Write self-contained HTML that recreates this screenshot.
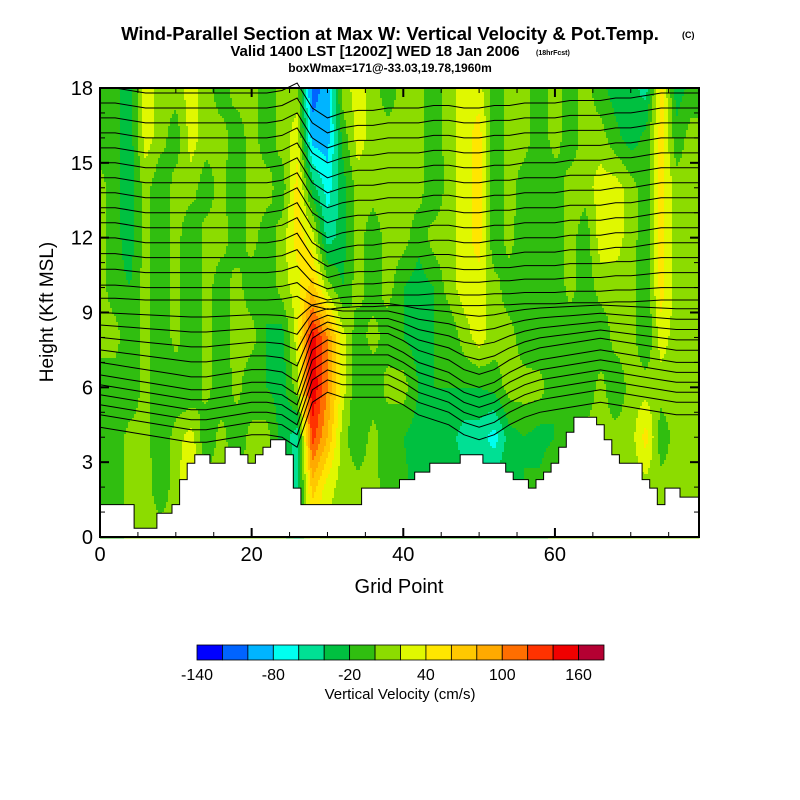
<!DOCTYPE html>
<html><head><meta charset="utf-8"><style>
html,body{margin:0;padding:0;background:#fff;}
svg{display:block;font-family:"Liberation Sans",Arial,sans-serif;}
</style></head><body>
<svg id="chart" width="800" height="800" viewBox="0 0 800 800" xmlns="http://www.w3.org/2000/svg">
<rect width="800" height="800" fill="#fff"/>
<text x="390" y="40" text-anchor="middle" font-size="18.5" font-weight="bold">Wind-Parallel Section at Max W: Vertical Velocity &amp; Pot.Temp.</text>
<text x="682" y="38" font-size="9" font-weight="bold">(C)</text>
<text x="375" y="56" text-anchor="middle" font-size="15" font-weight="bold">Valid 1400 LST [1200Z] WED 18 Jan 2006</text>
<text x="536" y="55" font-size="7" font-weight="bold">(18hrFcst)</text>
<text x="390" y="72" text-anchor="middle" font-size="12" font-weight="bold">boxWmax=171@-33.03,19.78,1960m</text>
<g id="heat"></g>
<g id="iso"></g>
<g id="terrain"></g>
<g id="axes"></g>
<text x="399" y="593" text-anchor="middle" font-size="20">Grid Point</text>
<text transform="translate(53,312) rotate(-90)" text-anchor="middle" font-size="19">Height (Kft MSL)</text>
<g id="cbar"></g>
<text x="400" y="699" text-anchor="middle" font-size="15">Vertical Velocity (cm/s)</text>
</svg>
<script>
// ---- data ----
const gridNodes = [0,2,4,6,8,10,12,14,16,18,20,22,24,26,28,30,32,34,36,38,40,42,44,46,48,50,52,54,56,58,60,62,64,66,68,70,72,74,76,78];
const heightNodes = [18,16,14,12,10,8,6,4,2,0];
const wH18 = [-14,-14,-30,30,10,10,30,10,-14,10,10,-14,10,10,-110,-90,10,30,10,-14, 10,10,-14,10,30,30,-14,10,10,-14,10,-14,10,-14,-30,-30,-50,50,-30,-14];
const wH16 = [-14,-14,-30,30,10,-14,30,10,10,-14,10,-14,10,30,-90,-90,-14,30,10,10, 10,10,-14,10,30,50,-14,10,10,-14,10,-14,10,10,-14,-30,-14,50,-14,10];
const wH14 = [10,-14,-30,10,-20,10,10,-14,10,-20,10,10,-14,50,-30,-70,-30,10,10,10, 10,10,-20,10,30,50,-20,10,-14,-20,-14,10,10,30,30,10,-14,50,10,10];
const wH12 = [10,-14,-30,10,-20,10,-20,10,10,-14,10,-14,10,50,30,-50,-30,10,-14,10, 10,-14,10,10,30,50,-20,10,-20,-20,-14,10,-14,30,30,10,-14,50,10,10];
const wH10 = [10,-14,-20,10,-20,10,-20,10,-14,10,-14,-20,10,30,70,10,-20,10,-14,10, -20,-30,-20,10,30,30,10,-14,-20,-20,-20,10,-14,10,10,10,-20,50,10,10];
const wH8  = [10,10,-20,10,-20,10,-20,10,-14,10,10,-20,-30,30,150,100,30,-14,10,-14, -20,-30,-20,-20,10,30,10,10,-14,-20,-20,-20,-20,-20,10,10,-20,30,10,10];
const wH6  = [-14,-14,-20,10,-20,-20,-20,10,-20,10,-20,-20,-30,10,160,100,30,-20,-20,10, 10,-20,-20,-20,-20,-20,-14,10,10,10,-20,-20,-20,10,-20,10,10,10,10,10];
const wH4  = [-14,-14,10,10,-20,10,30,-20,10,-20,10,10,-30,-50,130,80,10,-20,10,-20, -20,-30,-20,-30,-50,-50,-70,-30,-20,-30,-20,-14,10,10,10,10,50,-14,10,10];
const wH2  = [-14,-14,10,10,-14,10,50,10,10,10,10,10,10,-50,70,30,10,10,10,-14, -14,-30,-30,-30,-30,-30,-30,-20,-20,-14,10,10,10,10,10,10,10,10,10,10];
const wH0  = [-14,-14,10,10,10,10,10,10,10,10,10,10,10,-30,30,10,10,10,10,-14, -14,-14,-14,-14,-14,-14,-14,-14,-14,-14,10,10,10,10,10,10,10,10,10,10];
const wRows = [wH18,wH16,wH14,wH12,wH10,wH8,wH6,wH4,wH2,wH0];
const terrainHeights = [1.3,1.3,1.3,1.3,1.3,0.35,0.35,0.35,0.95,0.95,1.3,2.3,2.96,3.3,3.3,2.96,2.96,3.6,3.6,3.3,2.96,3.3,3.6,3.9,3.9,3.3,1.96,1.3,1.3,1.3,1.3,1.3,1.3,1.3,1.3,1.96,1.96,1.96,1.96,1.96,
 2.3,2.3,2.6,2.6,2.96,2.96,2.96,2.96,3.3,3.3,3.3,2.96,2.96,2.96,2.6,2.3,2.3,1.96,2.3,2.6,2.96,3.6,4.2,4.8,4.8,4.8,4.5,3.9,3.3,2.96,2.96,2.96,2.3,1.96,1.3,1.96,1.96,1.6,1.6,1.6];
const isoHeights = [4.4,4.9,5.3,5.7,6.1,6.5,7.0,7.5,8.0,8.5,9.0,9.5,10.0,10.6,11.2,11.8,12.4,13.0,13.6,14.2,14.8,15.4,16.0,16.6,17.2,17.8];
const isoShiftUpper = [0.2,0.2,0.1,0,0,0,0,0,0,0,0,0,0.1,0.4,-0.6,-1.0,-0.8,-0.7,-0.7,-0.6,-0.6,-0.6,-0.5,-0.5,-0.6,-0.6,-0.5,-0.5,-0.4,-0.4,-0.4,-0.3,-0.3,-0.3,-0.2,-0.2,-0.1,0,0,0];
const isoShiftLower = [0,-0.1,-0.2,-0.3,-0.4,-0.5,-0.6,-0.6,-0.5,-0.4,-0.3,-0.3,-0.4,-0.8,1.0,1.4,1.2,1.2,1.2,1.2,0.9,0.5,0.3,0.1,-0.3,-0.5,-0.3,0.1,0.4,0.6,0.7,0.8,0.9,1.0,0.9,0.8,0.7,0.6,0.5,0.5];
const cbarColors = ["#0000ff","#0064ff","#00b4ff","#00fff0","#00e094","#00c040","#30be10","#8cdc00","#e0f800","#ffe600","#ffc800","#ffaa00","#ff6e00","#ff3200","#f00000","#b40032"];
const cbarLabels = [-140,-80,-20,40,100,160];
const xTicks = [0,20,40,60];
const yTicks = [0,3,6,9,12,15,18];
// ---- scales ----
const X0=100,X1=699,Y0=537,Y1=88,GMAX=79,HMAX=18;
const xs = g => X0 + g*(X1-X0)/GMAX;
const ys = h => Y0 - h*(Y0-Y1)/HMAX;
const NS="http://www.w3.org/2000/svg";
function mk(tag,attrs,parent){const e=document.createElementNS(NS,tag);for(const k in attrs)e.setAttribute(k,attrs[k]);parent.appendChild(e);return e;}
function colorFor(w){let i=Math.floor((w+140)/20);i=Math.max(0,Math.min(15,i));return cbarColors[i];}
function wAt(g,h){
  let gi=g/2, hi=(18-h)/2;
  gi=Math.max(0,Math.min(gridNodes.length-1-1e-6,gi)); hi=Math.max(0,Math.min(heightNodes.length-1-1e-6,hi));
  const a=Math.floor(gi),b=Math.floor(hi),fx=gi-a,fy=hi-b;
  const v00=wRows[b][a],v10=wRows[b][a+1],v01=wRows[b+1][a],v11=wRows[b+1][a+1];
  return (v00*(1-fx)+v10*fx)*(1-fy)+(v01*(1-fx)+v11*fx)*fy;
}
// ---- heatmap ----
const heat=document.getElementById('heat');
const STEP=2;
for(let py=Y1;py<Y0;py+=STEP){
  const h=(Y0-(py+STEP/2))*HMAX/(Y0-Y1);
  let runStart=X0,runCol=null;
  for(let px=X0;px<=X1+STEP;px+=STEP){
    let col=null;
    if(px<X1){const g=(px+STEP/2-X0)*GMAX/(X1-X0);col=colorFor(wAt(g,h));}
    if(col!==runCol){
      if(runCol!==null){
        const r=mk('rect',{x:runStart,y:py,width:Math.min(px,X1)-runStart+0.5,height:STEP+0.5,fill:runCol},heat);
        
        
      }
      runStart=px;runCol=col;
    }
  }
}
// ---- isentropes ----
const iso=document.getElementById('iso');
isoHeights.forEach(function(h0){
  const sh = h0>9 ? isoShiftUpper : isoShiftLower;
  const f = h0>9 ? Math.min(1,(h0-8)/4) : Math.min(1,(9-h0)/3+0.3);
  let pts=[];
  gridNodes.forEach(function(g,i){pts.push(xs(g).toFixed(1)+','+ys(h0+sh[i]*f).toFixed(1));});
  pts.push(xs(79).toFixed(1)+','+ys(h0+sh[sh.length-1]*f).toFixed(1));
  const p=mk('polyline',{points:pts.join(' '),fill:'none',stroke:'#000','stroke-width':1},iso);
  
  
});
// ---- terrain ----
const ter=document.getElementById('terrain');
let d='M'+xs(0)+','+Y0;
terrainHeights.forEach(function(t,i){
  const xa=xs(Math.max(0,i-0.5)),xb=xs(Math.min(GMAX,i+0.5));
  d+=' L'+xa.toFixed(1)+','+ys(t).toFixed(1)+' L'+xb.toFixed(1)+','+ys(t).toFixed(1);
});
d+=' L'+xs(GMAX)+','+Y0+' Z';
const tp=mk('path',{d:d,fill:'#fff',stroke:'#000','stroke-width':1},ter);


// ---- axes ----
const ax=document.getElementById('axes');
const fr=mk('rect',{x:X0,y:Y1,width:X1-X0,height:Y0-Y1,fill:'none',stroke:'#000','stroke-width':2},ax);


for(let g=0;g<=GMAX;g+=5){
  const major=g%20===0, L=major?9:5, x=xs(g);
  mk('line',{x1:x,y1:Y0,x2:x,y2:Y0-L,stroke:'#000','stroke-width':major?2:1},ax);
  mk('line',{x1:x,y1:Y1,x2:x,y2:Y1+L,stroke:'#000','stroke-width':major?2:1},ax);
}
for(let h=0;h<=18;h+=1){
  const major=h%3===0, L=major?9:5, y=ys(h);
  mk('line',{x1:X0,y1:y,x2:X0+L,y2:y,stroke:'#000','stroke-width':major?2:1},ax);
  mk('line',{x1:X1,y1:y,x2:X1-L,y2:y,stroke:'#000','stroke-width':major?2:1},ax);
}
xTicks.forEach(function(v){
  const t=mk('text',{x:xs(v),y:Y0+24,'text-anchor':'middle','font-size':20},ax);t.textContent=v;
  
  
});
yTicks.forEach(function(v){
  const t=mk('text',{x:X0-7,y:ys(v)+7,'text-anchor':'end','font-size':20},ax);t.textContent=v;
  
  
});
// ---- colorbar ----
const cb=document.getElementById('cbar');
const CB0=197,CB1=604,CBW=(CB1-CB0)/cbarColors.length;
cbarColors.forEach(function(c,i){
  const r=mk('rect',{x:CB0+i*CBW,y:645,width:CBW,height:15,fill:c,stroke:'#000','stroke-width':0.8},cb);
  
  
});
cbarLabels.forEach(function(v){
  const x=CB0+(v+140)/20*CBW;
  const t=mk('text',{x:x,y:680,'text-anchor':'middle','font-size':16},cb);t.textContent=v;
  
  
});
</script>
</body></html>
